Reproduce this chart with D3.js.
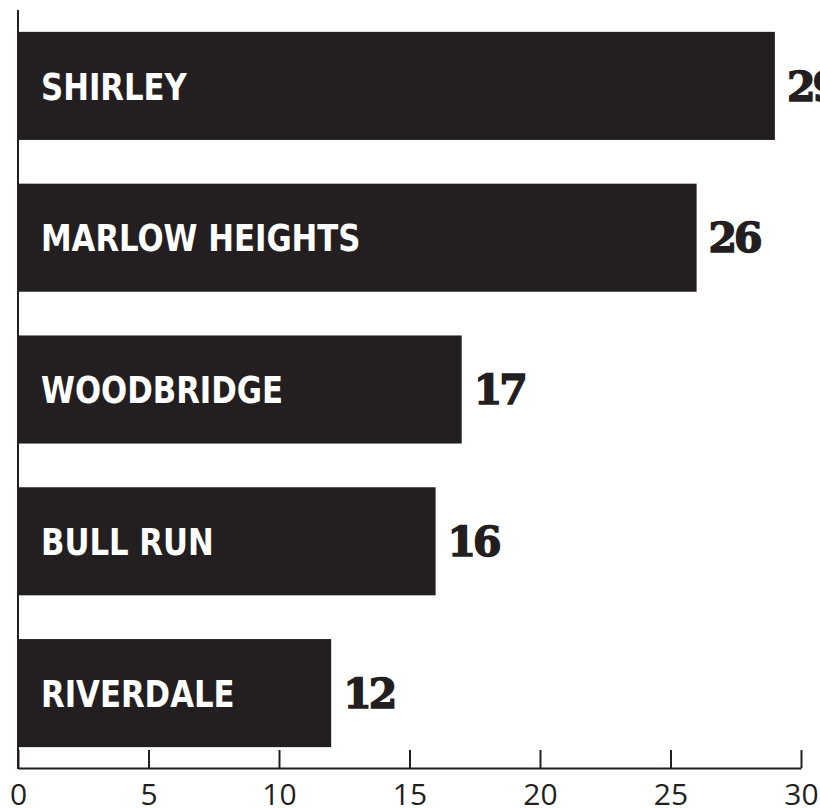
<!DOCTYPE html>
<html>
<head>
<meta charset="utf-8">
<script src="https://cdn.jsdelivr.net/npm/d3@7"></script>
<style>
  body { margin: 0; background: #fff; }
</style>
</head>
<body>
<div class="container"></div>
<script>
// data
var names = ["SHIRLEY", "MARLOW HEIGHTS", "WOODBRIDGE", "BULL RUN", "RIVERDALE"];
var counts = [29, 26, 17, 16, 12];
var ticks = [0, 5, 10, 15, 20, 25, 30];

var width = 820,
    height = 808,
    ink = "#231f20";

var svg = d3.select(".container").append("svg")
    .attr("width", width)
    .attr("height", height);

var x = d3.scaleLinear()
    .domain([0, 30])
    .range([18, 801]);

var y = d3.scaleBand()
    .domain(d3.range(names.length))
    .range([10, 769])
    .paddingInner(0.288)
    .paddingOuter(0.144);

// bars
svg.append("g")
  .selectAll("rect")
  .data(counts)
  .join("rect")
    .attr("x", x(0))
    .attr("y", (d, i) => y(i))
    .attr("width", d => x(d) - x(0))
    .attr("height", y.bandwidth())
    .attr("fill", ink);

// names inside bars (squeezed to look condensed)
svg.append("g")
    .attr("fill", "#fff")
    .style("font-family", "'DejaVu Sans Condensed', 'DejaVu Sans', sans-serif")
    .style("font-stretch", "condensed")
    .style("font-weight", "bold")
    .style("font-size", "38px")
  .selectAll("text")
  .data(names)
  .join("text")
    .attr("transform", (d, i) => `translate(41,${y(i) + y.bandwidth() / 2}) scale(0.9,1)`)
    .attr("dy", "0.36em")
    .text(d => d);

// values
svg.append("g")
    .attr("fill", ink)
    .attr("stroke", ink)
    .attr("stroke-width", 1.5)
    .style("font-family", "'DejaVu Serif', serif")
    .style("font-weight", "bold")
    .style("font-size", "41px")
    .style("letter-spacing", "-3px")
  .selectAll("text")
  .data(counts)
  .join("text")
    .attr("x", d => x(d) + 12)
    .attr("y", (d, i) => y(i) + y.bandwidth() / 2)
    .attr("dy", "0.36em")
    .text(d => d);

// x axis
var xAxis = svg.append("g")
    .attr("transform", "translate(0,768)")
    .call(d3.axisBottom(x).tickValues(ticks).tickSize(-18).tickSizeOuter(0).tickPadding(0));

xAxis.selectAll("line, path").attr("stroke", ink).attr("stroke-width", 2);
xAxis.selectAll("text")
    .attr("fill", ink)
    .attr("y", 37)
    .attr("dy", 0)
    .style("font-family", "'Open Sans', sans-serif")
    .style("font-size", "30px");

// y axis line
svg.append("line")
    .attr("x1", x(0)).attr("x2", x(0))
    .attr("y1", 10).attr("y2", 769)
    .attr("stroke", ink)
    .attr("stroke-width", 2);
</script>
</body>
</html>
